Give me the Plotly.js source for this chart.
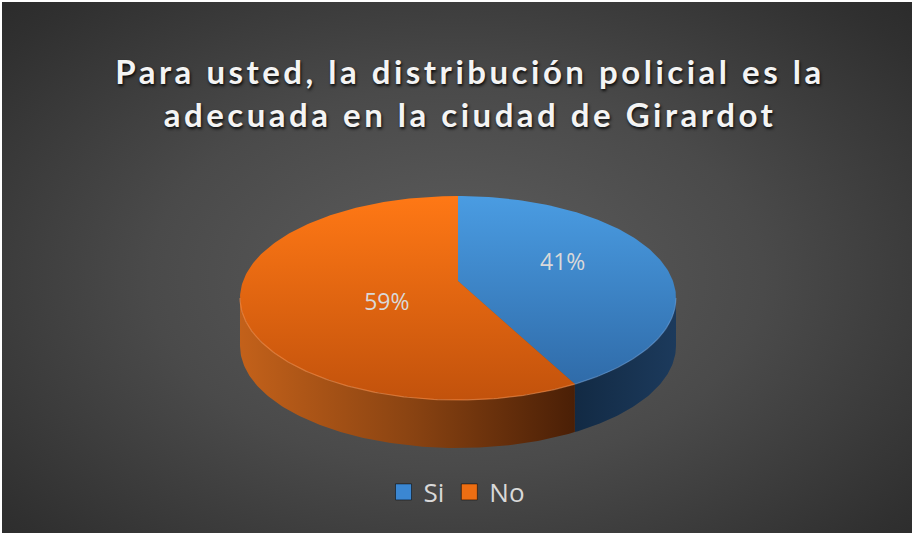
<!DOCTYPE html>
<html>
<head>
<meta charset="utf-8">
<script src="https://cdn.plot.ly/plotly-3.0.1.min.js"></script>
<style>
  html, body { margin: 0; padding: 0; background: #ffffff; width: 914px; height: 535px; overflow: hidden; }
  #bg { position: absolute; left: 2px; top: 2px; width: 910px; height: 531px;
        background: radial-gradient(ellipse 75% 80% at 50% 52%, #5e5e5e 0%, #4a4a4a 45%, #303030 85%, #282828 100%); }
  #chart { position: absolute; left: 0; top: 0; width: 914px; height: 535px; }
  .gtitle { letter-spacing: 3.5px; }
</style>
</head>
<body>
<div id="bg"></div>
<div id="chart"></div>
<script>
// ---- data ----
const categories = ['Si', 'No'];
const values = [41, 59];
const labelTexts = ['41%', '59%'];
const titleText = 'Para usted, la distribución policial es la<br>adecuada en la ciudad de Girardot';

// ---- styling / geometry ----
const topColors = [['#4a9ce2', '#2d67a4'], ['#ff7815', '#c2520c']];
const sideColors = [[[0, '#122a44'], [1, '#1c3a5c']], [[0, '#c3611a'], [0.5, '#8b4412'], [1, '#4a1f06']]];
const legendColors = ['#3b87d2', '#ee6e12'];
const cx = 458, cy = 298, rx = 218, ry = 102, vx = 458, vy = 281, depth = 48;
const labelR = [0.5, 0.34];
const labelDy = [-3, 14];

function pt(deg, dy) {
  const t = deg * Math.PI / 180;
  return [cx + rx * Math.sin(t), cy - ry * Math.cos(t) + (dy || 0)];
}
function arc(a0, a1, dy) {
  const xs = [], ys = [];
  const n = Math.max(2, Math.ceil(Math.abs(a1 - a0)));
  for (let i = 0; i <= n; i++) {
    const p = pt(a0 + (a1 - a0) * i / n, dy);
    xs.push(p[0]); ys.push(p[1]);
  }
  return [xs, ys];
}

const total = values.reduce((a, b) => a + b, 0);
const starts = [], ends = [];
let acc = 0;
values.forEach(v => { starts.push(acc / total * 360); acc += v; ends.push(acc / total * 360); });

const traces = [];
// side walls (front half: 90..270 deg)
values.forEach((v, i) => {
  const s = Math.max(starts[i], 90), e = Math.min(ends[i], 270);
  if (e <= s) return;
  const [x1, y1] = arc(s, e, 0);
  const [x2, y2] = arc(e, s, depth);
  const xs = x1.concat(x2), ys = y1.concat(y2);
  traces.push({
    type: 'scatter', mode: 'lines', x: xs.concat([xs[0]]), y: ys.concat([ys[0]]),
    fill: 'toself', line: { width: 0, color: 'rgba(0,0,0,0)' },
    fillgradient: { type: 'horizontal', colorscale: sideColors[i],
      start: Math.min(...xs), stop: Math.max(...xs) },
    hoverinfo: 'skip', showlegend: false
  });
});
// top faces
values.forEach((v, i) => {
  const [ax, ay] = arc(starts[i], ends[i], 0);
  const xs = [vx].concat(ax, [vx]);
  const ys = [vy].concat(ay, [vy]);
  traces.push({
    type: 'scatter', mode: 'lines', x: xs, y: ys, fill: 'toself',
    line: { width: 0, color: 'rgba(0,0,0,0)' },
    fillgradient: { type: 'vertical', colorscale: [[0, topColors[i][0]], [1, topColors[i][1]]],
      start: cy - ry, stop: cy + ry },
    name: categories[i], hoverinfo: 'skip', showlegend: false
  });
});
// rim highlight on front edge of top face
values.forEach((v, i) => {
  const s = Math.max(starts[i], 90), e = Math.min(ends[i], 270);
  if (e <= s) return;
  const [x1, y1] = arc(s, e, 0);
  traces.push({
    type: 'scatter', mode: 'lines', x: x1, y: y1,
    line: { width: 1.2, color: i === 1 ? 'rgba(255,150,80,0.55)' : 'rgba(120,170,230,0.45)' },
    hoverinfo: 'skip', showlegend: false
  });
});
// labels
const lx = [], ly = [];
values.forEach((v, i) => {
  const mid = (starts[i] + ends[i]) / 2 * Math.PI / 180;
  lx.push(vx + labelR[i] * rx * Math.sin(mid));
  ly.push(vy - labelR[i] * ry * Math.cos(mid) + labelDy[i]);
});
traces.push({
  type: 'scatter', mode: 'text', x: lx, y: ly, text: labelTexts,
  textfont: { family: 'Open Sans', size: 23, color: '#d9d9d9' },
  hoverinfo: 'skip', showlegend: false
});
// legend entries
categories.forEach((c, i) => {
  traces.push({
    type: 'scatter', mode: 'markers', x: [null], y: [null], name: c,
    marker: { symbol: 'square', size: 18, color: legendColors[i], line: { color: 'rgba(0,0,0,0.5)', width: 1 } },
    showlegend: true
  });
});

const layout = {
  width: 914, height: 535,
  margin: { l: 0, r: 0, t: 0, b: 0 },
  paper_bgcolor: 'rgba(0,0,0,0)', plot_bgcolor: 'rgba(0,0,0,0)',
  xaxis: { range: [0, 914], visible: false, fixedrange: true },
  yaxis: { range: [535, 0], visible: false, fixedrange: true },
  showlegend: true,
  legend: { orientation: 'h', x: 0.5, xanchor: 'center', y: 1 - 492 / 535, yanchor: 'middle',
    font: { family: 'Open Sans', size: 26, color: '#d9d9d9' }, bgcolor: 'rgba(0,0,0,0)', itemclick: false },
  title: {
    text: titleText,
    x: 0.5 + 13 / 914, xanchor: 'center', xref: 'paper',
    y: 1 - 84 / 535, yanchor: 'top', yref: 'container',
    font: { family: 'Lato', size: 33, color: '#f4f4f4', weight: 'bold',
      shadow: '1px 2px 3px rgba(0,0,0,0.85)' }
  }
};

Plotly.newPlot('chart', traces, layout, { staticPlot: true, displayModeBar: false });
</script>
</body>
</html>
